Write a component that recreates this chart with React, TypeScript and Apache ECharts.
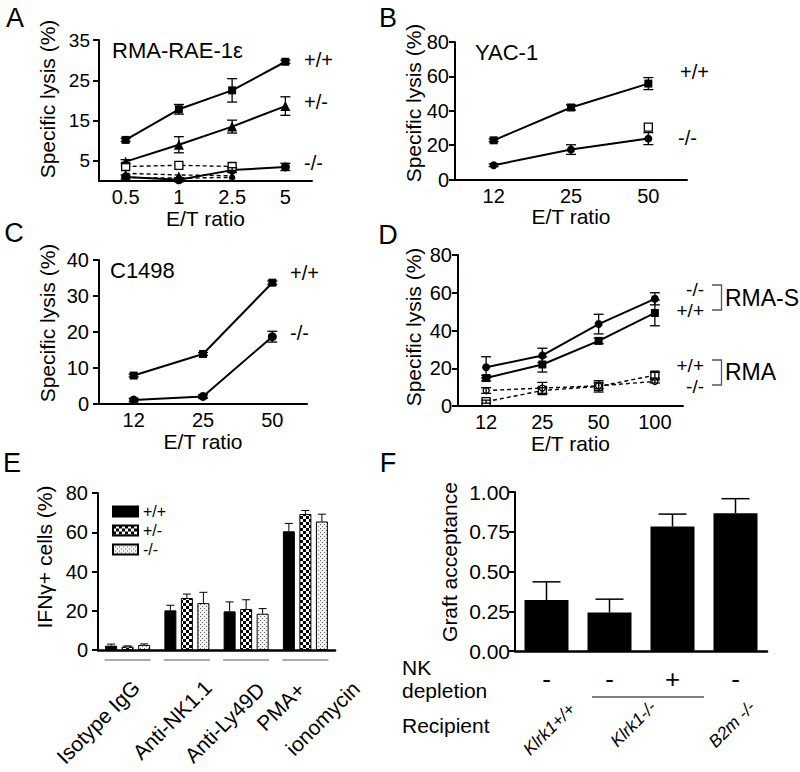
import React, { useEffect, useRef } from 'react';
import * as echarts from 'echarts';

const FONT = 'Arial, "Liberation Sans", Helvetica, sans-serif';

// ---- Panel A: RMA-RAE-1e ----
const aRatios = ['0.5', '1', '2.5', '5'];
const aTicks = [5, 15, 25, 35];
const aWT = [10.2, 17.8, 22.5, 29.6];
const aWTErr = [0.4, 1.2, 2.9, 0.4];
const aHet = [4.8, 9.0, 13.5, 18.6];
const aHetErr = [0.5, 2.0, 1.6, 2.3];
const aKO = [1.0, 0.3, 2.7, 3.5];
const aKOErr = [0.5, 0.5, 0.6, 0.9];
const aCtrlSquare = [3.6, 3.9, 3.6];
const aCtrlTriangle = [1.9, 1.5, 1.3];
const aCtrlCircle = [0.9, 0.7, 0.9];

// ---- Panel B: YAC-1 ----
const bRatios = ['12', '25', '50'];
const bWT = [22.8, 41.9, 55.8];
const bWTErr = [0.8, 1.5, 3.5];
const bKO = [8.3, 17.4, 23.8];
const bKOErr = [0.8, 2.8, 3.5];
const bCtrl = [null, null, 30.5];

// ---- Panel C: C1498 ----
const cRatios = ['12', '25', '50'];
const cWT = [7.9, 13.9, 33.7];
const cWTErr = [0.4, 0.4, 0.5];
const cKO = [1.1, 2.1, 18.7];
const cKOErr = [0.5, 0.5, 1.5];

// ---- Panel D: RMA-S / RMA ----
const dRatios = ['12', '25', '50', '100'];
const dRmaSKO = [20.5, 26.8, 43.4, 56.8];
const dRmaSKOErr = [5.6, 3.8, 5.2, 3.2];
const dRmaSWT = [14.8, 22.0, 34.5, 49.3];
const dRmaSWTErr = [1.5, 4.0, 1.5, 6.8];
const dRmaWT = [2.3, 8.2, 10.4, 16.3];
const dRmaWTErr = [0.8, 1.5, 3.0, 1.5];
const dRmaKO = [8.2, 9.5, 10.7, 13.0];
const dRmaKOErr = [1.5, 3.0, 1.5, 0.8];

// ---- Panel E: IFN-gamma ----
const eStimuli = ['Isotype IgG', 'Anti-NK1.1', 'Anti-Ly49D', 'PMA+ ionomycin'];
const eWT = [2.2, 20.2, 19.7, 60.5];
const eWTErr = [0.8, 2.6, 4.8, 4.0];
const eHet = [1.8, 26.5, 20.9, 69.3];
const eHetErr = [0.3, 2.0, 4.7, 1.8];
const eKO = [2.6, 23.9, 18.5, 65.5];
const eKOErr = [0.5, 5.5, 2.6, 3.7];
const eGenotypes = ['+/+', '+/-', '-/-'];

// ---- Panel F: graft acceptance ----
const fGroups = ['Klrk1+/+', 'Klrk1-/-', 'Klrk1-/- NK-depleted', 'B2m -/-'];
const fDepletion = ['-', '-', '+', '-'];
const fRecipients = ['Klrk1+/+', 'Klrk1-/-', 'B2m -/-'];
const fAcceptance = [0.32, 0.242, 0.783, 0.867];
const fAcceptanceErr = [0.115, 0.084, 0.078, 0.091];

const BLACK = '#000';

function makePattern(kind: 'checker' | 'dots') {
  const c = document.createElement('canvas');
  if (kind === 'checker') {
    c.width = 6; c.height = 6;
    const g = c.getContext('2d')!;
    g.fillStyle = '#fff'; g.fillRect(0, 0, 6, 6);
    g.fillStyle = '#000'; g.fillRect(0, 0, 3, 3); g.fillRect(3, 3, 3, 3);
  } else {
    c.width = 4; c.height = 4;
    const g = c.getContext('2d')!;
    g.fillStyle = '#f2f2f2'; g.fillRect(0, 0, 4, 4);
    g.fillStyle = '#666'; g.fillRect(0, 0, 1, 1); g.fillRect(2, 2, 1, 1);
  }
  return { image: c, repeat: 'repeat', imageWidth: c.width, imageHeight: c.height };
}

function catAxis(gi: number, data: string[], extra: any = {}) {
  return {
    type: 'category', gridIndex: gi, data, boundaryGap: true,
    axisLine: { show: true, lineStyle: { color: BLACK, width: 2 } },
    axisTick: { show: false },
    axisLabel: { color: BLACK, fontSize: 20, fontFamily: FONT, margin: 6 },
    splitLine: { show: false },
    ...extra,
  };
}

function valAxis(gi: number, min: number, max: number, interval: number, extra: any = {}) {
  const { axisLabel, axisTick, ...rest } = extra;
  return {
    type: 'value', gridIndex: gi, min, max, interval,
    axisLine: { show: true, lineStyle: { color: BLACK, width: 2 } },
    axisTick: { show: true, length: 6, lineStyle: { color: BLACK, width: 2 }, ...(axisTick || {}) },
    axisLabel: { color: BLACK, fontSize: 20, fontFamily: FONT, margin: 8, ...(axisLabel || {}) },
    splitLine: { show: false },
    ...rest,
  };
}

function lineSeries(name: string, gi: number, data: (number | null)[], symbol: string, size: number, opts: { dashed?: boolean; open?: boolean } = {}) {
  return {
    type: 'line', name, xAxisIndex: gi, yAxisIndex: gi, data,
    symbol, symbolSize: size, showSymbol: true, silent: true,
    lineStyle: { color: BLACK, width: opts.dashed ? 1.4 : 2, type: opts.dashed ? [4, 3] : 'solid' },
    itemStyle: { color: opts.open ? '#fff' : BLACK, borderColor: BLACK, borderWidth: opts.open ? 1.3 : 0 },
    z: 4,
  };
}

function errSeries(gi: number, values: (number | null)[], errs: number[], opts: { upper?: boolean; cap: number; offset?: number; width?: number }) {
  const data: number[][] = [];
  values.forEach((v, i) => { if (v != null) data.push([i, v, errs[i]]); });
  return {
    type: 'custom', xAxisIndex: gi, yAxisIndex: gi, silent: true, z: 5,
    encode: { x: 0, y: 1 },
    data,
    renderItem: (_p: any, api: any) => {
      const x = api.value(0), v = api.value(1), e = api.value(2);
      const hi = api.coord([x, v + e]);
      const lo = api.coord([x, opts.upper ? v : v - e]);
      const cx = hi[0] + (opts.offset || 0);
      const st = { stroke: BLACK, lineWidth: opts.width || 1.3 };
      const h = opts.cap / 2;
      const children: any[] = [
        { type: 'line', shape: { x1: cx, y1: hi[1], x2: cx, y2: lo[1] }, style: st },
        { type: 'line', shape: { x1: cx - h, y1: hi[1], x2: cx + h, y2: hi[1] }, style: st },
      ];
      if (!opts.upper) children.push({ type: 'line', shape: { x1: cx - h, y1: lo[1], x2: cx + h, y2: lo[1] }, style: st });
      return { type: 'group', children };
    },
  };
}

function txt(text: string, x: number, y: number, o: any = {}) {
  return {
    type: 'text', x, y, rotation: o.rot || 0, silent: true,
    style: {
      text, fontSize: o.size || 20, fontFamily: FONT, fontStyle: o.italic ? 'italic' : 'normal',
      fill: BLACK, textAlign: o.align || 'left', textVerticalAlign: o.va || 'middle',
    },
  };
}

function segLine(x1: number, y1: number, x2: number, y2: number) {
  return { type: 'line', silent: true, shape: { x1, y1, x2, y2 }, style: { stroke: '#555', lineWidth: 1.5 } };
}

export default function App() {
  const ref = useRef<HTMLDivElement>(null);
  useEffect(() => {
    if (!ref.current) return;
    const chart = echarts.init(ref.current, null, { renderer: 'svg' });
    const checker = makePattern('checker');
    const dots = makePattern('dots');
    const nameStyle = { fontSize: 21, color: BLACK, fontFamily: FONT };
    const V = Math.PI / 2;
    const D = Math.PI / 4;

    const option: any = {
      animation: false,
      textStyle: { fontFamily: FONT, color: BLACK },
      grid: [
        { left: 99, top: 40, width: 213, height: 141 },
        { left: 455, top: 42, width: 232, height: 137.5 },
        { left: 99, top: 260, width: 208, height: 144 },
        { left: 458, top: 255, width: 225, height: 151 },
        { left: 98, top: 493, width: 237, height: 157 },
        { left: 515, top: 492, width: 252, height: 159 },
      ].map(g => ({ ...g, containLabel: false, outerBoundsMode: 'none' })),
      xAxis: [
        catAxis(0, aRatios, { name: 'E/T ratio', nameLocation: 'middle', nameGap: 24, nameTextStyle: nameStyle }),
        catAxis(1, bRatios, { name: 'E/T ratio', nameLocation: 'middle', nameGap: 25, nameTextStyle: nameStyle }),
        catAxis(2, cRatios, { name: 'E/T ratio', nameLocation: 'middle', nameGap: 25, nameTextStyle: nameStyle }),
        catAxis(3, dRatios, { name: 'E/T ratio', nameLocation: 'middle', nameGap: 24, nameTextStyle: nameStyle }),
        catAxis(4, eStimuli, { axisLabel: { show: false }, axisLine: { show: true, lineStyle: { color: BLACK, width: 2.5 } } }),
        catAxis(5, fGroups, {
          axisLine: { show: true, lineStyle: { color: BLACK, width: 2.5 } },
          axisLabel: { color: BLACK, fontSize: 26, fontFamily: FONT, margin: 15, formatter: (_v: string, i: number) => fDepletion[i] },
        }),
      ],
      yAxis: [
        valAxis(0, 0, 35, 10, { axisLabel: { customValues: aTicks, fontSize: 19, margin: 9 }, axisTick: { customValues: aTicks } }),
        valAxis(1, 0, 80, 20, { axisLabel: { margin: 6 } }),
        valAxis(2, 0, 40, 10, { axisLabel: { margin: 10 } }),
        valAxis(3, 0, 80, 20, { axisLabel: { margin: 6 } }),
        valAxis(4, 0, 80, 20, { axisLabel: { margin: 10 } }),
        valAxis(5, 0, 1, 0.25, { axisLabel: { fontSize: 21, margin: 5, formatter: (v: number) => v.toFixed(2) } }),
      ],
      legend: {
        data: eGenotypes, orient: 'vertical', left: 107, top: 498,
        itemWidth: 25, itemHeight: 10, itemGap: 2, icon: 'rect', selectedMode: false,
        textStyle: { fontSize: 16, lineHeight: 17, color: BLACK, fontFamily: FONT },
      },
      series: [
        // A
        lineSeries('A +/+', 0, aWT, 'rect', 8),
        lineSeries('A +/-', 0, aHet, 'triangle', 10),
        lineSeries('A -/-', 0, aKO, 'circle', 9),
        lineSeries('A ctrl square', 0, aCtrlSquare, 'rect', 8, { dashed: true, open: true }),
        lineSeries('A ctrl triangle', 0, aCtrlTriangle, 'triangle', 7, { dashed: true }),
        lineSeries('A ctrl circle', 0, aCtrlCircle, 'circle', 6, { dashed: true }),
        errSeries(0, aWT, aWTErr, { cap: 10 }),
        errSeries(0, aHet, aHetErr, { cap: 10 }),
        errSeries(0, aKO, aKOErr, { cap: 10 }),
        // B
        lineSeries('B +/+', 1, bWT, 'rect', 8),
        lineSeries('B -/-', 1, bKO, 'circle', 8),
        lineSeries('B ctrl', 1, bCtrl, 'rect', 8, { open: true }),
        errSeries(1, bWT, bWTErr, { cap: 10 }),
        errSeries(1, bKO, bKOErr, { cap: 10 }),
        // C
        lineSeries('C +/+', 2, cWT, 'rect', 8),
        lineSeries('C -/-', 2, cKO, 'circle', 9),
        errSeries(2, cWT, cWTErr, { cap: 10 }),
        errSeries(2, cKO, cKOErr, { cap: 10 }),
        // D
        lineSeries('D RMA-S -/-', 3, dRmaSKO, 'circle', 8),
        lineSeries('D RMA-S +/+', 3, dRmaSWT, 'rect', 8),
        lineSeries('D RMA +/+', 3, dRmaWT, 'rect', 8, { dashed: true, open: true }),
        lineSeries('D RMA -/-', 3, dRmaKO, 'circle', 6, { dashed: true, open: true }),
        errSeries(3, dRmaSKO, dRmaSKOErr, { cap: 10 }),
        errSeries(3, dRmaSWT, dRmaSWTErr, { cap: 10 }),
        errSeries(3, dRmaWT, dRmaWTErr, { cap: 10 }),
        errSeries(3, dRmaKO, dRmaKOErr, { cap: 10 }),
        // E
        { type: 'bar', name: eGenotypes[0], xAxisIndex: 4, yAxisIndex: 4, data: eWT, barWidth: 12, barGap: '37.5%', itemStyle: { color: BLACK, borderColor: BLACK, borderWidth: 1 }, silent: true },
        { type: 'bar', name: eGenotypes[1], xAxisIndex: 4, yAxisIndex: 4, data: eHet, barWidth: 12, barGap: '37.5%', itemStyle: { color: checker, borderColor: BLACK, borderWidth: 1 }, silent: true },
        { type: 'bar', name: eGenotypes[2], xAxisIndex: 4, yAxisIndex: 4, data: eKO, barWidth: 12, barGap: '37.5%', itemStyle: { color: dots, borderColor: BLACK, borderWidth: 1 }, silent: true },
        errSeries(4, eWT, eWTErr, { upper: true, cap: 8, offset: -16.5, width: 1 }),
        errSeries(4, eHet, eHetErr, { upper: true, cap: 8, offset: 0, width: 1 }),
        errSeries(4, eKO, eKOErr, { upper: true, cap: 8, offset: 16.5, width: 1 }),
        {
          type: 'custom', xAxisIndex: 4, yAxisIndex: 4, silent: true, encode: { x: 0, y: 1 },
          data: eStimuli.map((_s, i) => [i, 0]),
          renderItem: (_p: any, api: any) => {
            const c = api.coord([api.value(0), 0]);
            return { type: 'line', shape: { x1: c[0] - 23, y1: c[1] + 10, x2: c[0] + 23, y2: c[1] + 10 }, style: { stroke: '#555', lineWidth: 1.2 } };
          },
        },
        // F
        { type: 'bar', name: 'Graft acceptance', xAxisIndex: 5, yAxisIndex: 5, data: fAcceptance, barWidth: 44, itemStyle: { color: BLACK }, silent: true },
        errSeries(5, fAcceptance, fAcceptanceErr, { upper: true, cap: 28, width: 1.5 }),
      ],
      graphic: {
        elements: [
          // panel letters
          txt('A', 15, 18, { size: 27, align: 'center' }),
          txt('B', 388, 18, { size: 27, align: 'center' }),
          txt('C', 14, 233, { size: 27, align: 'center' }),
          txt('D', 388, 235, { size: 27, align: 'center' }),
          txt('E', 12, 463, { size: 27, align: 'center' }),
          txt('F', 388, 463, { size: 27, align: 'center' }),
          // panel titles
          txt('RMA-RAE-1ε', 112, 50, { size: 22 }),
          txt('YAC-1', 475, 52, { size: 22 }),
          txt('C1498', 110, 270, { size: 22 }),
          // y-axis titles
          txt('Specific lysis (%)', 47.5, 99, { size: 21, rot: V, align: 'center' }),
          txt('Specific lysis (%)', 413, 103, { size: 21, rot: V, align: 'center' }),
          txt('Specific lysis (%)', 47, 323, { size: 21, rot: V, align: 'center' }),
          txt('Specific lysis (%)', 413, 327, { size: 21, rot: V, align: 'center' }),
          txt('IFNγ+ cells (%)', 44, 557, { size: 21, rot: V, align: 'center' }),
          txt('Graft acceptance', 449, 562, { size: 21, rot: V, align: 'center' }),
          // genotype labels A-C
          txt('+/+', 304, 60, { size: 20 }),
          txt('+/-', 304, 102, { size: 20 }),
          txt('-/-', 304, 163, { size: 20 }),
          txt('+/+', 680, 72, { size: 20 }),
          txt('-/-', 678, 138, { size: 20 }),
          txt('+/+', 290, 273, { size: 20 }),
          txt('-/-', 290, 333, { size: 20 }),
          // D labels and brackets
          txt('-/-', 704, 289, { size: 19, align: 'right' }),
          txt('+/+', 704, 310, { size: 19, align: 'right' }),
          txt('+/+', 704, 365, { size: 19, align: 'right' }),
          txt('-/-', 704, 386, { size: 19, align: 'right' }),
          { type: 'polyline', silent: true, shape: { points: [[712, 285], [721.5, 285], [721.5, 310], [712, 310]] }, style: { stroke: '#555', lineWidth: 1.3, fill: null } },
          { type: 'polyline', silent: true, shape: { points: [[712, 360], [721.5, 360], [721.5, 385], [712, 385]] }, style: { stroke: '#555', lineWidth: 1.3, fill: null } },
          txt('RMA-S', 725, 298, { size: 23 }),
          txt('RMA', 725, 372, { size: 23 }),
          // E category labels
          txt(eStimuli[0], 136, 684, { size: 21, rot: D, align: 'right' }),
          txt(eStimuli[1], 208, 684, { size: 21, rot: D, align: 'right' }),
          txt(eStimuli[2], 261, 686, { size: 21, rot: D, align: 'right' }),
          txt(eStimuli[3].split(' ')[0], 301, 686, { size: 21, rot: D, align: 'right' }),
          txt(eStimuli[3].split(' ')[1], 356, 685, { size: 21, rot: D, align: 'right' }),
          // F row headers and recipients
          txt('NK', 402, 667, { size: 21 }),
          txt('depletion', 402, 690, { size: 21 }),
          txt('Recipient', 402, 725, { size: 21 }),
          segLine(592, 697, 704, 697),
          txt(fRecipients[0], 572, 706, { size: 17.5, rot: D, align: 'right', italic: true }),
          txt(fRecipients[1], 653, 704, { size: 17.5, rot: D, align: 'right', italic: true }),
          txt(fRecipients[2], 752, 704, { size: 17.5, rot: D, align: 'right', italic: true }),
        ],
      },
    };
    chart.setOption(option);
    return () => chart.dispose();
  }, []);
  return <div ref={ref} style={{ position: 'absolute', left: 0, top: 0, width: 800, height: 772, background: '#fff' }} />;
}
